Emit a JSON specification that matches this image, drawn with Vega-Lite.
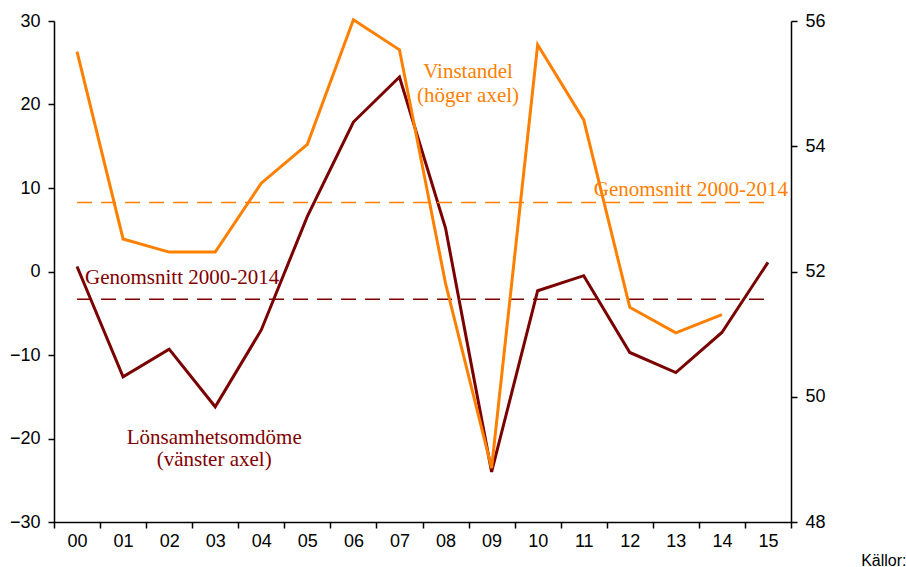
{
  "$schema": "https://vega.github.io/schema/vega-lite/v6.json",
  "width": 737,
  "height": 501,
  "autosize": "none",
  "padding": {"left": 54, "top": 21, "right": 115, "bottom": 45},
  "background": "white",
  "config": {
    "view": {"stroke": null},
    "axis": {
      "grid": false,
      "labelFont": "Liberation Sans",
      "labelFontSize": 18,
      "labelColor": "black",
      "domainColor": "black",
      "domainWidth": 1.5,
      "tickColor": "black",
      "tickWidth": 1.5,
      "tickSize": 6
    }
  },
  "datasets": {
    "lon": [
      {"year": "00", "v": 0.6}, {"year": "01", "v": -12.6}, {"year": "02", "v": -9.3},
      {"year": "03", "v": -16.2}, {"year": "04", "v": -7.0}, {"year": "05", "v": 6.6},
      {"year": "06", "v": 17.9}, {"year": "07", "v": 23.3}, {"year": "08", "v": 5.2},
      {"year": "09", "v": -24.0}, {"year": "10", "v": -2.3}, {"year": "11", "v": -0.5},
      {"year": "12", "v": -9.7}, {"year": "13", "v": -12.1}, {"year": "14", "v": -7.3},
      {"year": "15", "v": 1.1}
    ],
    "vin": [
      {"year": "00", "v": 55.51}, {"year": "01", "v": 52.52}, {"year": "02", "v": 52.31},
      {"year": "03", "v": 52.31}, {"year": "04", "v": 53.41}, {"year": "05", "v": 54.03},
      {"year": "06", "v": 56.02}, {"year": "07", "v": 55.54}, {"year": "08", "v": 51.81},
      {"year": "09", "v": 48.86}, {"year": "10", "v": 55.62}, {"year": "11", "v": 54.42},
      {"year": "12", "v": 51.43}, {"year": "13", "v": 51.02}, {"year": "14", "v": 51.31}
    ],
    "lonAvg": [{"year": "00", "v": -3.33}, {"year": "15", "v": -3.33}],
    "vinAvg": [{"year": "00", "v": 53.1}, {"year": "15", "v": 53.1}]
  },
  "encoding": {
    "x": {
      "field": "year",
      "type": "ordinal",
      "scale": {
        "type": "band",
        "paddingInner": 0,
        "paddingOuter": 0,
        "domain": ["00","01","02","03","04","05","06","07","08","09","10","11","12","13","14","15"]
      },
      "axis": {
        "tickBand": "extent",
        "labelAngle": 0,
        "labelPadding": 4,
        "labelBaseline": "top",
        "title": "Källor:",
        "titleX": 852,
        "titleY": 43,
        "titleAlign": "right",
        "titleAnchor": null,
        "titleBaseline": "alphabetic",
        "titleFont": "Liberation Sans",
        "titleFontSize": 16,
        "titleFontWeight": "normal",
        "titleColor": "black"
      }
    }
  },
  "layer": [
    {
      "encoding": {
        "y": {
          "field": "v",
          "type": "quantitative",
          "scale": {"domain": [-30, 30], "nice": false, "zero": false},
          "axis": {"orient": "left", "values": [-30, -20, -10, 0, 10, 20, 30], "labelPadding": 8, "title": null}
        }
      },
      "layer": [
        {"data": {"name": "lonAvg"}, "mark": {"type": "line", "color": "#800000", "strokeWidth": 1.5, "strokeDash": [15, 9]}},
        {"data": {"name": "lon"}, "mark": {"type": "line", "color": "#7a0000", "strokeWidth": 3}},
        {
          "data": {"values": [{"year": "00", "v": -1.53, "label": "Genomsnitt 2000-2014"}]},
          "mark": {"type": "text", "font": "Liberation Serif", "fontSize": 21, "color": "#800000", "align": "left", "baseline": "alphabetic", "dx": 8},
          "encoding": {"text": {"field": "label"}}
        },
        {
          "data": {"values": [{"year": "03", "v": -20.66, "label": "Lönsamhetsomdöme"}, {"year": "03", "v": -23.3, "label": "(vänster axel)"}]},
          "mark": {"type": "text", "font": "Liberation Serif", "fontSize": 21, "color": "#800000", "align": "center", "baseline": "alphabetic", "dx": -1},
          "encoding": {"text": {"field": "label"}}
        }
      ]
    },
    {
      "encoding": {
        "y": {
          "field": "v",
          "type": "quantitative",
          "scale": {"domain": [48, 56], "nice": false, "zero": false},
          "axis": {"orient": "right", "values": [48, 50, 52, 54, 56], "labelPadding": 8, "title": null}
        }
      },
      "layer": [
        {"data": {"name": "vinAvg"}, "mark": {"type": "line", "color": "#FF8000", "strokeWidth": 1.5, "strokeDash": [15, 9]}},
        {"data": {"name": "vin"}, "mark": {"type": "line", "color": "#FF8000", "strokeWidth": 3}},
        {
          "data": {"values": [{"year": "15", "v": 53.21, "label": "Genomsnitt 2000-2014"}]},
          "mark": {"type": "text", "font": "Liberation Serif", "fontSize": 21, "color": "#FF8000", "align": "right", "baseline": "alphabetic", "dx": 20},
          "encoding": {"text": {"field": "label"}}
        },
        {
          "data": {"values": [{"year": "08", "v": 55.09, "label": "Vinstandel"}, {"year": "08", "v": 54.71, "label": "(höger axel)"}]},
          "mark": {"type": "text", "font": "Liberation Serif", "fontSize": 21, "color": "#FF8000", "align": "center", "baseline": "alphabetic", "dx": 22.5},
          "encoding": {"text": {"field": "label"}}
        }
      ]
    }
  ],
  "resolve": {"scale": {"y": "independent"}}
}
